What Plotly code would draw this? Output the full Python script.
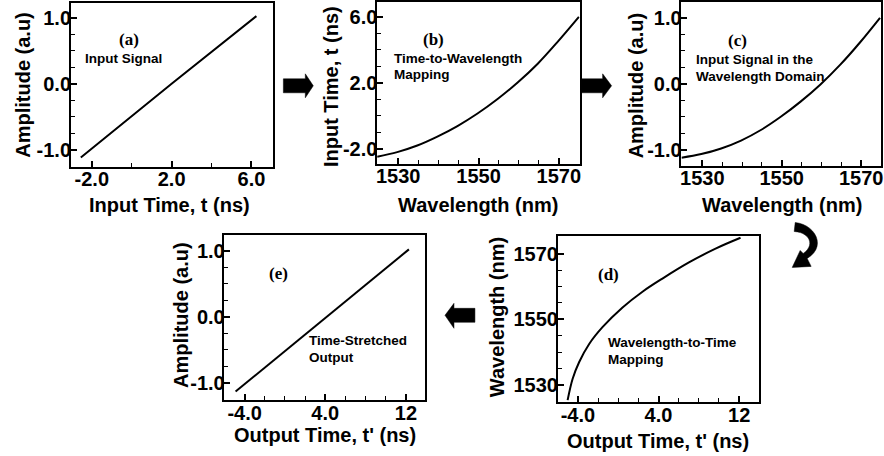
import plotly.graph_objects as go

W, H = 884, 456

# ---------------- data ----------------
a_time = [-2.55, 2.0, 6.25]
a_amp = [-1.12, 0.0, 1.03]

b_wl = [1524.75, 1529.75, 1534.75, 1539.75, 1544.75, 1549.75, 1554.75, 1559.75, 1564.75, 1569.75, 1575.0]
b_time = [-2.48, -2.2, -1.8, -1.26, -0.62, 0.14, 1.02, 2.02, 3.16, 4.5, 6.0]

c_wl = [1524.75, 1529.75, 1534.75, 1539.75, 1544.75, 1549.75, 1554.75, 1559.75, 1564.75, 1569.75, 1574.75]
c_amp = [-1.12, -1.065, -0.98, -0.86, -0.70, -0.50, -0.27, -0.01, 0.29, 0.63, 1.0]

d_time = [-5.02, -4.52, -3.87, -2.88, -1.56, 0.43, 2.41, 4.39, 7.02, 9.66, 12.14]
d_wl = [1525.4, 1531.9, 1537.0, 1542.5, 1547.6, 1553.6, 1558.4, 1562.4, 1567.3, 1571.5, 1574.8]

e_time = [-4.9, 4.1, 12.3]
e_amp = [-1.13, 0.0, 1.02]

amp_ticks = [-1.0, 0.0, 1.0]
amp_labels = ["-1.0", "0.0", "1.0"]
t_ticks = [-2.0, 2.0, 6.0]
t_labels = ["-2.0", "2.0", "6.0"]
wl_ticks = [1530, 1550, 1570]
wl_labels = ["1530", "1550", "1570"]
tp_ticks = [-4.0, 4.0, 12.0]
tp_labels = ["-4.0", "4.0", "12"]

# ---------------- layout helpers ----------------
SANS = "Liberation Sans"
SERIF = "Liberation Serif"


def px_x(x):
    return x / W


def px_y(y):
    return 1 - y / H


def path(points):
    s = ""
    for i, (x, y) in enumerate(points):
        s += ("M" if i == 0 else "L") + f"{px_x(x):.5f},{px_y(y):.5f} "
    return s + "Z"


panels = [
    dict(box=(70, 2, 273, 166), x=a_time, y=a_amp, xr=[-3.05, 7.1], yr=[-1.26, 1.23],
         xt=t_ticks, xl=t_labels, xm=(2, -2), yt=amp_ticks, yl=amp_labels, ym=(0.25, 0), shape="linear"),
    dict(box=(377, 1, 580, 163), x=b_wl, y=b_time, xr=[1524.75, 1575.2], yr=[-2.9, 6.9],
         xt=wl_ticks, xl=wl_labels, xm=(5, 1530), yt=t_ticks, yl=t_labels, ym=(1, 0), shape="spline"),
    dict(box=(682, 1, 882, 165), x=c_wl, y=c_amp, xr=[1524.75, 1575.0], yr=[-1.24, 1.24],
         xt=wl_ticks, xl=wl_labels, xm=(5, 1530), yt=amp_ticks, yl=amp_labels, ym=(0.25, 0), shape="spline"),
    dict(box=(558, 236, 760, 402), x=d_time, y=d_wl, xr=[-6.0, 14.0], yr=[1524.8, 1575.2],
         xt=tp_ticks, xl=tp_labels, xm=(2, 0), yt=wl_ticks, yl=wl_labels, ym=(5, 1530), shape="spline"),
    dict(box=(224, 235, 425, 400), x=e_time, y=e_amp, xr=[-6.0, 13.9], yr=[-1.26, 1.23],
         xt=tp_ticks, xl=tp_labels, xm=(2, 0), yt=amp_ticks, yl=amp_labels, ym=(0.25, 0), shape="linear"),
]

fig = go.Figure()
layout = dict(
    width=W, height=H,
    margin=dict(l=0, r=0, t=0, b=0),
    paper_bgcolor="white", plot_bgcolor="white",
    showlegend=False,
)

tickfont = dict(family=SANS, size=20, color="black", weight="bold")

for i, p in enumerate(panels):
    n = "" if i == 0 else str(i + 1)
    l, t, r, b = p["box"]
    fig.add_trace(go.Scatter(x=p["x"], y=p["y"], mode="lines",
                             line=dict(color="black", width=2, shape=p["shape"], smoothing=1.0),
                             xaxis="x" + n, yaxis="y" + n, hoverinfo="skip"))
    common = dict(showline=True, linecolor="black", linewidth=1.6, mirror=True,
                  ticks="inside", ticklen=6, tickwidth=1.5, tickcolor="black",
                  tickmode="array", tickfont=tickfont, showgrid=False, zeroline=False,
                  fixedrange=True)
    layout["xaxis" + n] = dict(common, domain=[px_x(l), px_x(r)], range=p["xr"], anchor="y" + n,
                               tickvals=p["xt"], ticktext=p["xl"], ticklabelstandoff=-6,
                               minor=dict(ticks="inside", dtick=p["xm"][0], tick0=p["xm"][1],
                                          ticklen=4, tickwidth=1.2, tickcolor="black", showgrid=False))
    layout["yaxis" + n] = dict(common, domain=[px_y(b), px_y(t)], range=p["yr"], anchor="x" + n,
                               tickvals=p["yt"], ticktext=p["yl"], ticklabelstandoff=-6,
                               minor=dict(ticks="inside", dtick=p["ym"][0], tick0=p["ym"][1],
                                          ticklen=4, tickwidth=1.2, tickcolor="black", showgrid=False))

annotations = []


def txt(text, x, y, size, family=SANS, angle=0, xanchor="center"):
    annotations.append(dict(text=text, x=px_x(x), y=px_y(y), xref="paper", yref="paper",
                            xanchor=xanchor, yanchor="middle", textangle=angle, showarrow=False,
                            font=dict(family=family, size=size, color="black", weight="bold")))


# axis titles
TS = 20
txt("Amplitude (a.u)", 22, 84, TS, angle=-90)
txt("Input Time, t (ns)", 169, 204, TS)
txt("Input Time, t (ns)", 331, 86, TS, angle=-90)
txt("Wavelength (nm)", 478, 204, TS)
txt("Amplitude (a.u)", 636, 85, TS, angle=-90)
txt("Wavelength (nm)", 783, 204, TS)
txt("Amplitude (a.u)", 181, 315, TS, angle=-90)
txt("Output Time, t' (ns)", 325, 435, TS)
txt("Wavelength (nm)", 497, 317, TS, angle=-90)
txt("Output Time, t' (ns)", 658, 441, TS)

# panel labels
LS = 17
txt("(a)", 128, 39, LS, family=SERIF)
txt("(b)", 433, 39, LS, family=SERIF)
txt("(c)", 738, 40, LS, family=SERIF)
txt("(d)", 609, 274, LS, family=SERIF)
txt("(e)", 278, 273, LS, family=SERIF)

# descriptions
DS = 13.5
txt("Input Signal", 82, 58, DS, xanchor="left")
txt("Time-to-Wavelength", 392, 58, DS, xanchor="left")
txt("Mapping", 392, 74, DS, xanchor="left")
txt("Input Signal in the", 695, 59, DS, xanchor="left")
txt("Wavelength Domain", 695, 76, DS, xanchor="left")
txt("Wavelength-to-Time", 606, 342, DS, xanchor="left")
txt("Mapping", 606, 359, DS, xanchor="left")
txt("Time-Stretched", 307, 340, DS, xanchor="left")
txt("Output", 307, 357, DS, xanchor="left")

layout["annotations"] = annotations

# block arrows
arrow_style = dict(type="path", xref="paper", yref="paper", fillcolor="black",
                   line=dict(color="black", width=0.5), layer="above")
shapes = [
    dict(arrow_style, path=path([(283, 78), (305, 78), (305, 73), (313, 85), (305, 97), (305, 92), (283, 92)])),
    dict(arrow_style, path=path([(582, 78), (603, 78), (603, 73), (612, 85), (603, 97), (603, 92), (582, 92)])),
    dict(arrow_style, path=path([(445, 315), (454, 303), (454, 308), (475, 308), (475, 322), (454, 322), (454, 328)])),
]


def bez(p0, p1, p2, p3, n=14):
    pts = []
    for k in range(n + 1):
        s = k / n
        x = (1 - s) ** 3 * p0[0] + 3 * (1 - s) ** 2 * s * p1[0] + 3 * (1 - s) * s ** 2 * p2[0] + s ** 3 * p3[0]
        y = (1 - s) ** 3 * p0[1] + 3 * (1 - s) ** 2 * s * p1[1] + 3 * (1 - s) * s ** 2 * p2[1] + s ** 3 * p3[1]
        pts.append((x, y))
    return pts


outer = bez((796, 222), (816, 224), (828, 246), (808, 258))
inner = bez((804, 253), (816, 245), (811, 232), (795, 231))
curved = outer + [(812, 266), (793, 267), (801, 250)] + inner
shapes.append(dict(arrow_style, path=path(curved)))
layout["shapes"] = shapes

fig.update_layout(**layout)
fig.write_html("out.html", config={"displayModeBar": False},
               post_script="document.body.style.margin='0px';document.body.style.overflow='hidden';")
